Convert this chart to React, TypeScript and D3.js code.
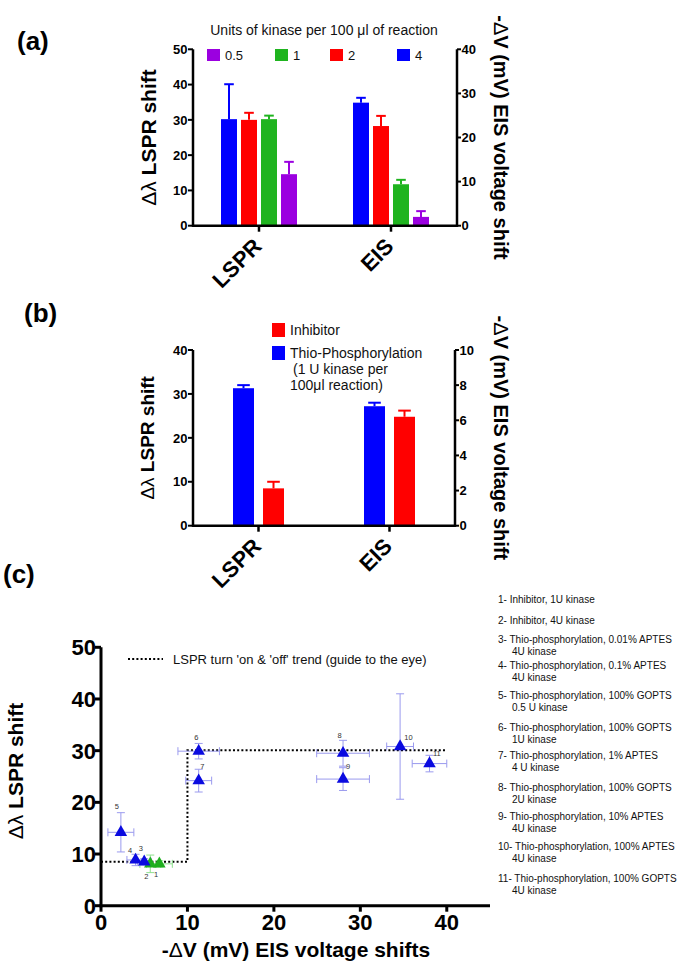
import React from 'react';
import * as d3 from 'd3';

const FONT = '"Liberation Sans", Arial, Helvetica, sans-serif';

// ---------- Panel (a) data ----------
const categoriesA = ['LSPR', 'EIS'];
const kinaseBarOrder = ['4', '2', '1', '0.5'];
const kinaseLegendOrder = ['0.5', '1', '2', '4'];
const kinaseColors: Record<string, string> = { '4': '#0000ff', '2': '#ff0000', '1': '#1fb41f', '0.5': '#9b00e0' };
const lsprShiftA = [30.2, 30.0, 30.2, 14.6]; // nm, bar order
const lsprErrA = [9.9, 2.0, 1.0, 3.5];
const eisShiftA = [27.9, 22.6, 9.4, 2.0]; // mV, bar order
const eisErrA = [1.1, 2.3, 1.0, 1.3];
const leftTicksA = [0, 10, 20, 30, 40, 50];
const rightTicksA = [0, 10, 20, 30, 40];

// ---------- Panel (b) data ----------
const categoriesB = ['LSPR', 'EIS'];
const treatmentsB = ['Thio-Phosphorylation', 'Inhibitor'];
const treatmentColorsB = ['#0000ff', '#ff0000'];
const lsprShiftB = [31.3, 8.5];
const lsprErrB = [0.7, 1.5];
const eisShiftB = [6.8, 6.2];
const eisErrB = [0.2, 0.35];
const leftTicksB = [0, 10, 20, 30, 40];
const rightTicksB = [0, 2, 4, 6, 8, 10];

// ---------- Panel (c) data ----------
const pointIdsC = [1, 2, 3, 4, 5, 6, 7, 8, 9, 10, 11];
const pointGroupC = ['inh', 'inh', 'thio', 'thio', 'thio', 'thio', 'thio', 'thio', 'thio', 'thio', 'thio'];
const eisShiftC = [6.75, 5.7, 5.0, 4.0, 2.3, 11.3, 11.3, 28.0, 28.0, 34.6, 38.0];
const eisErrC = [1.5, 1.2, 0.8, 1.0, 1.5, 2.4, 1.5, 3.05, 3.05, 1.55, 2.0];
const lsprShiftC = [8.1, 8.1, 8.5, 8.85, 14.2, 29.9, 24.2, 29.5, 24.5, 30.8, 27.5];
const lsprErrC = [0.6, 1.7, 0.6, 1.1, 3.8, 1.5, 2.2, 2.5, 2.2, 10.2, 1.6];
const trendX = [0, 10, 10, 40];
const trendY = [8.5, 8.5, 30.1, 30.1];
const xTicksC = [0, 10, 20, 30, 40];
const yTicksC = [0, 10, 20, 30, 40, 50];
const legendLinesC: [string, string][] = [
  ['1- Inhibitor, 1U kinase', ''],
  ['2- Inhibitor, 4U kinase', ''],
  ['3- Thio-phosphorylation, 0.01% APTES', '4U kinase'],
  ['4- Thio-phosphorylation, 0.1% APTES', '4U kinase'],
  ['5- Thio-phosphorylation, 100% GOPTS', '0.5 U kinase'],
  ['6- Thio-phosphorylation, 100% GOPTS', '1U kinase'],
  ['7- Thio-phosphorylation, 1% APTES', '4 U kinase'],
  ['8- Thio-phosphorylation, 100% GOPTS', '2U kinase'],
  ['9- Thio-phosphorylation, 10% APTES', '4U kinase'],
  ['10- Thio-phosphorylation, 100% APTES', '4U kinase'],
  ['11- Thio-phosphorylation, 100% GOPTS', '4U kinase'],
];

// ---------- layout constants ----------
const legendBaselinesC = [602.7, 624, 642.7, 669.3, 699.3, 731, 759.3, 791.3, 820, 850, 881.7];
const pointLabelOffsetsC: [number, number][] = [
  [-3.3, 10.3], [-4, 13], [-3.3, -13.7], [-5.6, -10], [-4, -25.5], [-2.3, -14.3],
  [3.7, -14], [-3.4, -18.3], [5, -12.3], [8.3, -9], [7.4, -10],
];
const kinaseLegendX = [207, 275, 330, 397];

function PanelLetter({ x, y, t }: { x: number; y: number; t: string }) {
  return (
    <text x={x} y={y} fontFamily={FONT} fontSize={26} fontWeight="bold" fill="#000">{t}</text>
  );
}

function BarPanel(props: {
  left: number; right: number; top: number; bottom: number;
  leftMax: number; rightMax: number; leftTicks: number[]; rightTicks: number[];
  categories: string[]; series: string[]; colors: string[];
  lspr: number[]; lsprErr: number[]; eis: number[]; eisErr: number[];
  groupHalf: number; padInner: number; capFrac: number;
  leftLabelFont: number; leftLabelX: number; rightLabelX: number;
}) {
  const p = props;
  const x = d3.scalePoint<string>().domain(p.categories).range([p.left, p.right]).padding(0.5);
  const sub = d3.scaleBand<string>().domain(p.series).range([-p.groupHalf, p.groupHalf]).paddingInner(p.padInner);
  const yL = d3.scaleLinear().domain([0, p.leftMax]).range([p.bottom, p.top]);
  const yR = d3.scaleLinear().domain([0, p.rightMax]).range([p.bottom, p.top]);
  const bw = sub.bandwidth();
  const cap = bw * p.capFrac;
  const groups = [
    { cat: p.categories[0], vals: p.lspr, errs: p.lsprErr, y: yL },
    { cat: p.categories[1], vals: p.eis, errs: p.eisErr, y: yR },
  ];
  const midY = (p.top + p.bottom) / 2;
  return (
    <g>
      {groups.map((g) =>
        p.series.map((s, i) => {
          const x0 = (x(g.cat) as number) + (sub(s) as number);
          const yv = g.y(g.vals[i]);
          const ye = g.y(g.vals[i] + g.errs[i]);
          const cx = x0 + bw / 2;
          return (
            <g key={g.cat + s}>
              <line x1={cx} x2={cx} y1={yv} y2={ye} stroke={p.colors[i]} strokeWidth={2} />
              <line x1={cx - cap / 2} x2={cx + cap / 2} y1={ye} y2={ye} stroke={p.colors[i]} strokeWidth={2} />
              <rect x={x0} y={yv} width={bw} height={p.bottom - yv} fill={p.colors[i]} />
            </g>
          );
        })
      )}
      {/* axes */}
      <line x1={p.left} x2={p.right} y1={p.bottom} y2={p.bottom} stroke="#000" strokeWidth={2.5} />
      <line x1={p.left} x2={p.left} y1={p.bottom + 1.25} y2={p.top} stroke="#000" strokeWidth={2.5} />
      <line x1={p.right} x2={p.right} y1={p.bottom + 1.25} y2={p.top} stroke="#000" strokeWidth={2.5} />
      {p.leftTicks.map((t) => (
        <g key={'l' + t}>
          <line x1={p.left - 5} x2={p.left} y1={yL(t)} y2={yL(t)} stroke="#000" strokeWidth={2} />
          <text x={p.left - 5.5} y={yL(t)} dy="0.36em" textAnchor="end" fontFamily={FONT} fontSize={13} fontWeight="bold">{t}</text>
        </g>
      ))}
      {p.rightTicks.map((t) => (
        <g key={'r' + t}>
          <line x1={p.right} x2={p.right + 4} y1={yR(t)} y2={yR(t)} stroke="#000" strokeWidth={2} />
          <text x={p.right + 4.5} y={yR(t)} dy="0.36em" textAnchor="start" fontFamily={FONT} fontSize={13} fontWeight="bold">{t}</text>
        </g>
      ))}
      {p.categories.map((c) => {
        const cx = x(c) as number;
        return (
          <g key={'c' + c}>
            <line x1={cx} x2={cx} y1={p.bottom} y2={p.bottom + 6} stroke="#000" strokeWidth={2.5} />
            <text transform={`translate(${cx + 4},${p.bottom + 22}) rotate(-45)`} textAnchor="end"
              fontFamily={FONT} fontSize={22} fontWeight="bold">{c}</text>
          </g>
        );
      })}
      <text transform={`translate(${p.leftLabelX},${midY}) rotate(-90)`} textAnchor="middle" fontFamily={FONT}
        fontSize={p.leftLabelFont} fontWeight="bold">
        <tspan fontWeight="normal">Δλ</tspan> LSPR shift
      </text>
      <text transform={`translate(${p.rightLabelX},${midY}) rotate(90)`} textAnchor="middle" fontFamily={FONT}
        fontSize={20} fontWeight="bold">
        -<tspan fontWeight="normal">Δ</tspan>V (mV) EIS voltage shift
      </text>
    </g>
  );
}

function PanelC() {
  const left = 101, bottom = 905.7, top = 647.3;
  const x = d3.scaleLinear().domain([0, 45]).range([left, 490]);
  const y = d3.scaleLinear().domain([0, 50]).range([bottom, top]);
  const trend = d3.line<number>().x((_, i) => x(trendX[i])).y((_, i) => y(trendY[i]))(trendX.map((_, i) => i)) || '';
  const tri = d3.symbol().type(d3.symbolTriangle).size(68)() || '';
  const col = (g: string) => (g === 'inh' ? '#1fae1f' : '#0a0ae0');
  const errCol = (g: string) => (g === 'inh' ? '#8fe08f' : '#9a9aee');
  return (
    <g>
      {/* trend line */}
      <path d={trend} fill="none" stroke="#000" strokeWidth={2} strokeDasharray="2,2.2" />
      {/* error bars */}
      {pointIdsC.map((id, i) => {
        const px = x(eisShiftC[i]);
        const py = y(lsprShiftC[i]);
        const xl = x(eisShiftC[i] - eisErrC[i]);
        const xr = x(eisShiftC[i] + eisErrC[i]);
        const yt = y(lsprShiftC[i] + lsprErrC[i]);
        const yb = y(lsprShiftC[i] - lsprErrC[i]);
        const c = errCol(pointGroupC[i]);
        return (
          <g key={'e' + id} stroke={c} strokeWidth={1}>
            <line x1={xl} x2={xr} y1={py} y2={py} />
            <line x1={xl} x2={xl} y1={py - 4} y2={py + 4} />
            <line x1={xr} x2={xr} y1={py - 4} y2={py + 4} />
            <line x1={px} x2={px} y1={yt} y2={yb} />
            <line x1={px - 4} x2={px + 4} y1={yt} y2={yt} />
            <line x1={px - 4} x2={px + 4} y1={yb} y2={yb} />
          </g>
        );
      })}
      {pointIdsC.map((id, i) => {
        const px = x(eisShiftC[i]);
        const py = y(lsprShiftC[i]);
        return (
          <g key={'p' + id}>
            <path d={tri} transform={`translate(${px},${py})`} fill={col(pointGroupC[i])} />
            <text x={px + pointLabelOffsetsC[i][0]} y={py + pointLabelOffsetsC[i][1]} dy="0.35em" textAnchor="middle"
              fontFamily={FONT} fontSize={7.5} fill="#333">{id}</text>
          </g>
        );
      })}
      {/* axes */}
      <line x1={left - 1.5} x2={490} y1={bottom} y2={bottom} stroke="#000" strokeWidth={3} />
      <line x1={left} x2={left} y1={bottom + 1.5} y2={top} stroke="#000" strokeWidth={3} />
      {yTicksC.map((t) => (
        <g key={'y' + t}>
          <line x1={left - 6} x2={left} y1={y(t)} y2={y(t)} stroke="#000" strokeWidth={3} />
          <text x={left - 5} y={y(t)} dy="0.36em" textAnchor="end" fontFamily={FONT} fontSize={22} fontWeight="bold">{t}</text>
        </g>
      ))}
      {xTicksC.map((t) => (
        <g key={'x' + t}>
          <line x1={x(t)} x2={x(t)} y1={bottom} y2={bottom + 6} stroke="#000" strokeWidth={3} />
          <text x={x(t)} y={930} textAnchor="middle" fontFamily={FONT} fontSize={22} fontWeight="bold">{t}</text>
        </g>
      ))}
      <text x={296} y={957} textAnchor="middle" fontFamily={FONT} fontSize={21} fontWeight="bold">
        -<tspan fontWeight="normal">Δ</tspan>V (mV) EIS voltage shifts
      </text>
      <text transform={`translate(23,771) rotate(-90)`} textAnchor="middle" fontFamily={FONT} fontSize={21} fontWeight="bold">
        <tspan fontWeight="normal">Δλ</tspan> LSPR shift
      </text>
      {/* legend */}
      <line x1={128} x2={163} y1={659} y2={659} stroke="#000" strokeWidth={2} strokeDasharray="2,2.2" />
      <text x={173} y={663.5} fontFamily={FONT} fontSize={13} fill="#111">LSPR turn 'on &amp; 'off' trend (guide to the eye)</text>
      {legendLinesC.map(([a, b], i) => (
        <g key={'lg' + i}>
          <text x={498} y={legendBaselinesC[i]} fontFamily={FONT} fontSize={10} fill="#111">{a}</text>
          {b && <text x={512} y={legendBaselinesC[i] + 11.8} fontFamily={FONT} fontSize={10} fill="#111">{b}</text>}
        </g>
      ))}
    </g>
  );
}

export default function App() {
  return (
    <svg width={685} height={965} style={{ position: 'absolute', left: 0, top: 0, background: '#fff' }}>
      <rect width={685} height={965} fill="#fff" />
      <PanelLetter x={17} y={50} t="(a)" />
      <PanelLetter x={24} y={322} t="(b)" />
      <PanelLetter x={3} y={583} t="(c)" />

      {/* Panel (a) */}
      <text x={324} y={35} textAnchor="middle" fontFamily={FONT} fontSize={14} fill="#111">Units of kinase per 100 μl of reaction</text>
      {kinaseLegendOrder.map((k, i) => (
        <g key={'kl' + k}>
          <rect x={kinaseLegendX[i]} y={49} width={13} height={12} fill={kinaseColors[k]} />
          <text x={kinaseLegendX[i] + 18} y={59.5} fontFamily={FONT} fontSize={13} fill="#111">{k}</text>
        </g>
      ))}
      <BarPanel left={193} right={457} top={49.3} bottom={225.7} leftMax={50} rightMax={40}
        leftTicks={leftTicksA} rightTicks={rightTicksA} categories={categoriesA}
        series={kinaseBarOrder} colors={kinaseBarOrder.map((k) => kinaseColors[k])}
        lspr={lsprShiftA} lsprErr={lsprErrA} eis={eisShiftA} eisErr={eisErrA}
        groupHalf={38} padInner={0.2} capFrac={0.6} leftLabelFont={21} leftLabelX={156} rightLabelX={494} />

      {/* Panel (b) */}
      {treatmentsB.slice().reverse().map((t, j) => {
        const i = treatmentsB.length - 1 - j;
        return (
          <rect key={'tb' + t} x={272} y={j === 0 ? 323 : 346} width={13} height={14} fill={treatmentColorsB[i]} />
        );
      })}
      <text x={290} y={335} fontFamily={FONT} fontSize={14} fill="#111">Inhibitor</text>
      <text x={290} y={358} fontFamily={FONT} fontSize={14} fill="#111">Thio-Phosphorylation</text>
      <text x={293} y={374} fontFamily={FONT} fontSize={14} fill="#111">(1 U kinase per</text>
      <text x={290} y={390} fontFamily={FONT} fontSize={14} fill="#111">100μl reaction)</text>
      <BarPanel left={193} right={455} top={350} bottom={525.7} leftMax={40} rightMax={10}
        leftTicks={leftTicksB} rightTicks={rightTicksB} categories={categoriesB}
        series={treatmentsB} colors={treatmentColorsB}
        lspr={lsprShiftB} lsprErr={lsprErrB} eis={eisShiftB} eisErr={eisErrB}
        groupHalf={25.5} padInner={0.3} capFrac={0.6} leftLabelFont={19} leftLabelX={154} rightLabelX={494} />

      <PanelC />
    </svg>
  );
}
